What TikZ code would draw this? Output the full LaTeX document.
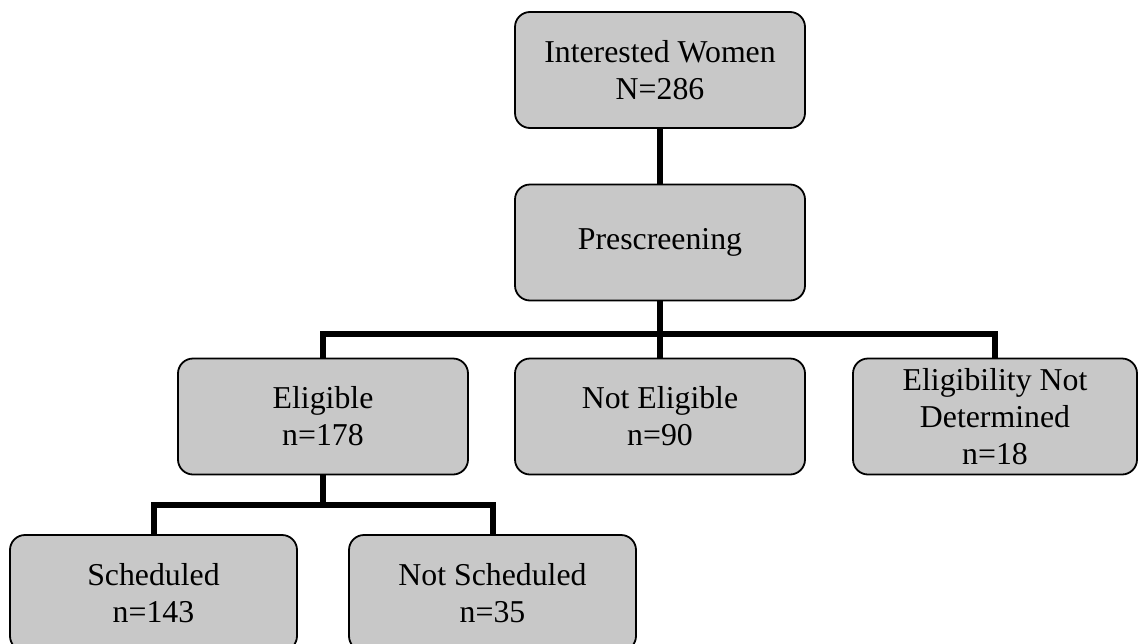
\documentclass[tikz,border=0pt]{standalone}
\usepackage{fontspec}
\setmainfont{Liberation Serif}
\usetikzlibrary{backgrounds}
\definecolor{boxgray}{RGB}{200,200,200}
\tikzset{
  flowbox/.style={draw=black, line width=1.8pt, fill=boxgray, rounded corners=15pt,
    minimum width=290pt, minimum height=116pt, align=center, inner sep=0pt,
    font=\fontsize{31.8}{37}\selectfont},
  conn/.style={draw=black, line width=6pt, line join=miter, line cap=butt}
}
\begin{document}
\begin{tikzpicture}[x=1pt,y=1pt]
\clip (0,0) rectangle (1138,-643);
\useasboundingbox (0,0) rectangle (1138,-643);
\node[flowbox] (iw) at (660,-70) {Interested Women\\N=286};
\node[flowbox] (ps) at (660,-242.5) {Prescreening};
\node[flowbox] (el) at (323,-416.5) {Eligible\\n=178};
\node[flowbox] (ne) at (660,-416.5) {Not Eligible\\n=90};
\node[flowbox, minimum width=284pt] (nd) at (995,-416.5) {Eligibility Not\\Determined\\n=18};
\node[flowbox, minimum width=287pt] (sc) at (153.5,-593) {Scheduled\\n=143};
\node[flowbox, minimum width=287pt] (ns) at (492.5,-593) {Not Scheduled\\n=35};
\coordinate (bar) at (0,-334);
\coordinate (bartwo) at (0,-505);
\begin{scope}[on background layer]
\draw[conn] (iw.south) -- (ps.north);
\draw[conn] (ps.south) -- (ne.north);
\draw[conn] (el.north) -- (el.north |- bar) -- (nd.north |- bar) -- (nd.north);
\draw[conn] (el.south) -- (el.south |- bartwo);
\draw[conn] (sc.north) -- (sc.north |- bartwo) -- (ns.north |- bartwo) -- (ns.north);
\end{scope}
\end{tikzpicture}
\end{document}
